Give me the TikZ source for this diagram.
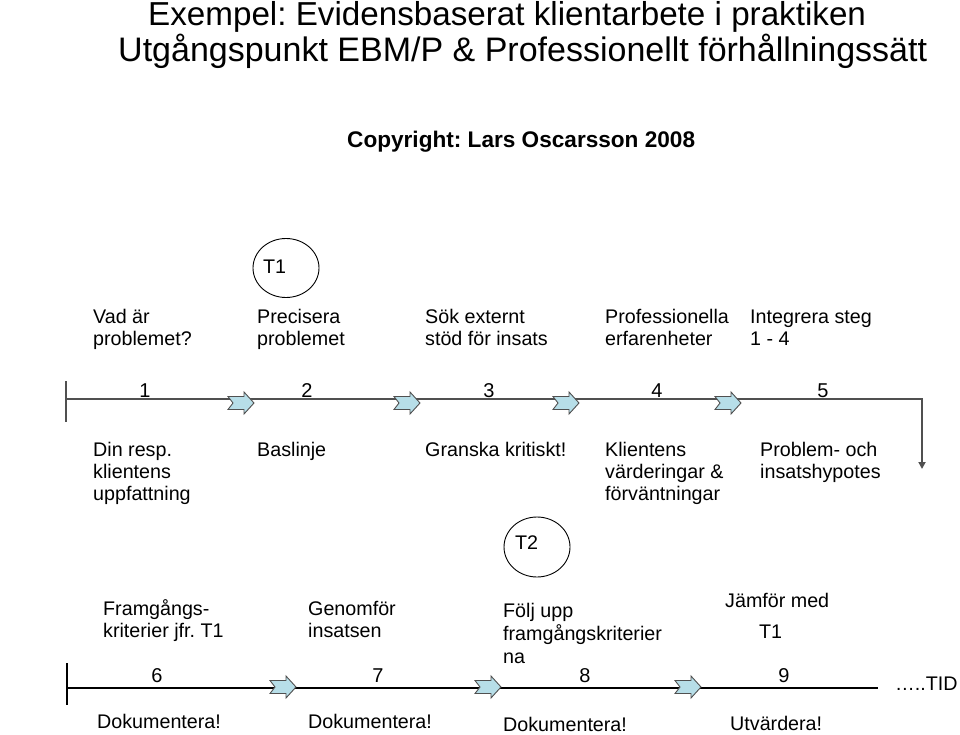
\documentclass[tikz,border=0pt]{standalone}
\usepackage{fontspec}
\setmainfont{Liberation Sans}
\usetikzlibrary{arrows.meta,shapes.geometric}
\definecolor{arrfill}{HTML}{B7DEE8}
\definecolor{linegray}{HTML}{505050}
\frenchspacing
\begin{document}
\begin{tikzpicture}[x=1pt,y=-1pt,
  lbl/.style={anchor=base west, inner sep=0pt, font=\fontsize{19.7}{22}\selectfont},
  num/.style={anchor=base, inner sep=0pt, font=\fontsize{20}{22}\selectfont},
  ttl/.style={anchor=base west, inner sep=0pt},
  circ/.style={draw=black, line width=0.9pt, ellipse, minimum width=66pt, minimum height=59pt, inner sep=0pt},
  tline/.style={line width=1.8pt},
  blockarr/.pic={\draw[fill=arrfill, draw=linegray, line width=0.9pt, line join=miter]
     (0,-6.5) -- (16,-6.5) -- (16,-11) -- (26,0) -- (16,11) -- (16,6.5) -- (0,6.5) -- (5,0) -- cycle;}
]
\useasboundingbox (0,0) rectangle (960,735);

% titles
\node[ttl, font=\fontsize{33.2}{36}\selectfont] (title1) at (148,26) {Exempel: Evidensbaserat klientarbete i praktiken};
\node[ttl, font=\fontsize{34}{36}\selectfont] (title2) at (118,62) {Utgångspunkt EBM/P \& Professionellt förhållningssätt};
\node[anchor=base west, inner sep=0pt, font=\fontsize{22.6}{24}\selectfont\bfseries] (copy) at (347,148) {Copyright: Lars Oscarsson 2008};

% T1 circle
\node[circ] (t1c) at (286,268) {};
\node[lbl] (t1) at (263,273) {T1};

% top labels row 1
\node[lbl] (a1) at (93,323) {Vad är};
\node[lbl] (a2) at (93,345) {problemet?};
\node[lbl] (b1) at (257,323) {Precisera};
\node[lbl] (b2) at (257,345) {problemet};
\node[lbl] (c1) at (425,323) {Sök externt};
\node[lbl] (c2) at (425,345) {stöd för insats};
\node[lbl] (d1) at (605,323) {Professionella};
\node[lbl] (d2) at (605,345) {erfarenheter};
\node[lbl] (e1) at (750,323) {Integrera steg};
\node[lbl] (e2) at (750,345) {1 - 4};

% timeline 1
\coordinate (L1t) at (66,381);
\coordinate (L1b) at (66,422);
\coordinate (L1s) at (66,399);
\coordinate (L1e) at (922,399);
\coordinate (L1d) at (922,469);
\draw[tline, draw=linegray] (L1t) -- (L1b);
\draw[tline, draw=linegray, -{Triangle[length=7pt,width=7pt]}] (L1s) -- (L1e) -- (L1d);
\pic at (228,403) {blockarr};
\pic at (394,403) {blockarr};
\pic at (553,403) {blockarr};
\pic at (715,403) {blockarr};

\node[num] (n1) at (145,397) {1};
\node[num] (n2) at (307,397) {2};
\node[num] (n3) at (489,397) {3};
\node[num] (n4) at (657,397) {4};
\node[num] (n5) at (823,397) {5};

% labels below row 1
\node[lbl] (f1) at (93,456) {Din resp.};
\node[lbl] (f2) at (93,478) {klientens};
\node[lbl] (f3) at (93,500) {uppfattning};
\node[lbl] (g1) at (257,456) {Baslinje};
\node[lbl] (h1) at (425,456) {Granska kritiskt!};
\node[lbl] (i1) at (605,456) {Klientens};
\node[lbl] (i2) at (605,478) {värderingar \&};
\node[lbl] (i3) at (605,500) {förväntningar};
\node[lbl] (j1) at (760,456) {Problem- och};
\node[lbl] (j2) at (760,478) {insatshypotes};

% T2 circle
\node[circ, minimum height=60pt] (t2c) at (537,547) {};
\node[lbl] (t2) at (515,549) {T2};

% row 2 top labels
\node[lbl] (k1) at (103,615) {Framgångs-};
\node[lbl] (k2) at (103,637) {kriterier jfr. T1};
\node[lbl] (l1) at (308,615) {Genomför};
\node[lbl] (l2) at (308,637) {insatsen};
\node[lbl] (m1) at (503,617) {Följ upp};
\node[lbl] (m2) at (503,640) {framgångskriterier};
\node[lbl] (m3) at (503,663) {na};
\node[lbl] (o1) at (725,607) {Jämför med};
\node[lbl] (o2) at (759,638) {T1};

% timeline 2
\coordinate (L2t) at (67,663);
\coordinate (L2b) at (67,705);
\coordinate (L2s) at (67,688);
\coordinate (L2e) at (878,688);
\draw[tline] (L2t) -- (L2b);
\draw[tline] (L2s) -- (L2e);
\pic at (270,687) {blockarr};
\pic at (475,687) {blockarr};
\pic at (675,687) {blockarr};

\node[num] (n6) at (157,682) {6};
\node[num] (n7) at (378,682) {7};
\node[num] (n8) at (585,682) {8};
\node[num] (n9) at (784,682) {9};
\node[lbl] (tid) at (895,690) {…..TID};

% bottom labels
\node[lbl] (p1) at (97,728) {Dokumentera!};
\node[lbl] (p2) at (308,728) {Dokumentera!};
\node[lbl] (p3) at (503,731) {Dokumentera!};
\node[lbl] (p4) at (730,730) {Utvärdera!};
\end{tikzpicture}
\end{document}
